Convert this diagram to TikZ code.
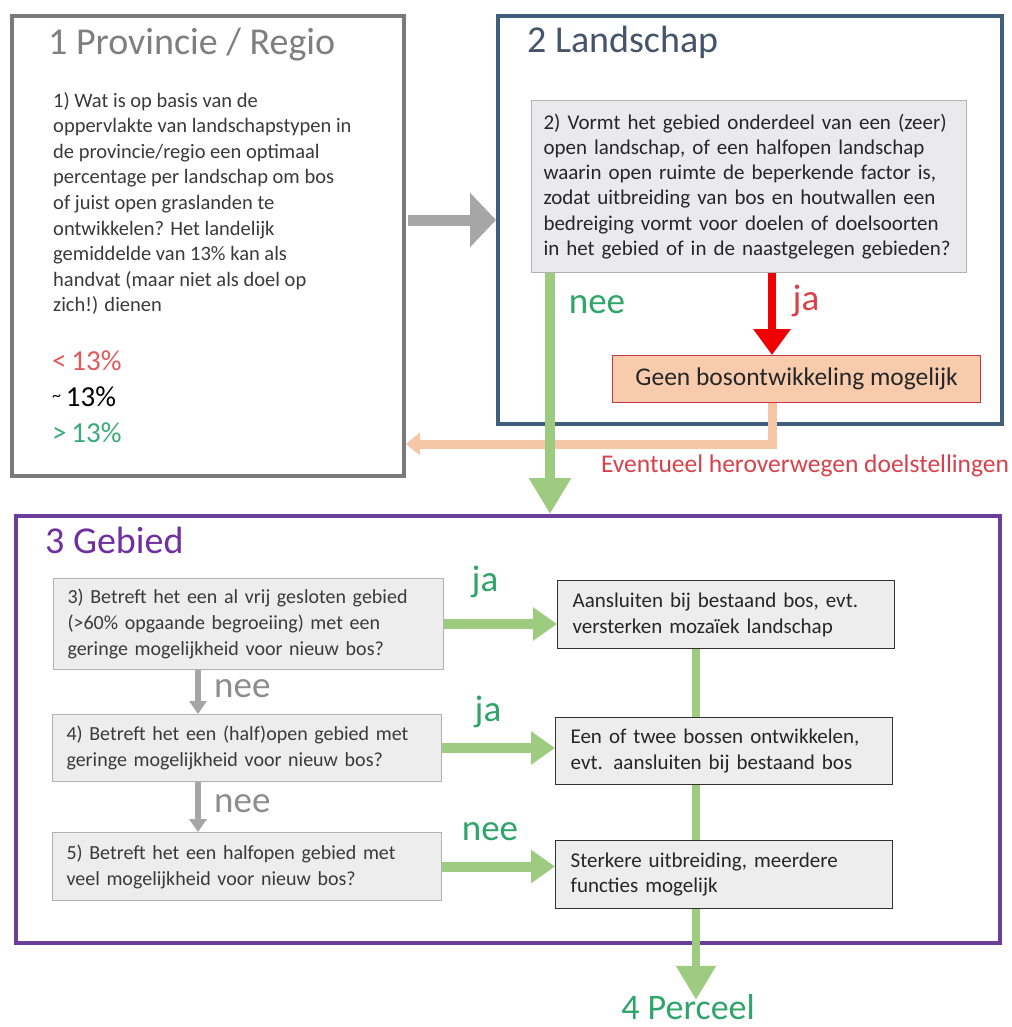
\documentclass[tikz,border=0pt]{standalone}
\usepackage{fontspec}
\setmainfont{Carlito}
\usetikzlibrary{arrows.meta}
\definecolor{frameGray}{HTML}{7A7A7A}
\definecolor{frameBlue}{HTML}{41607E}
\definecolor{framePurple}{HTML}{6B3E9B}
\definecolor{titleGray}{HTML}{7F7F7F}
\definecolor{titleBlue}{HTML}{44546A}
\definecolor{titlePurple}{HTML}{7030A0}
\definecolor{arrGray}{HTML}{A6A6A6}
\definecolor{arrGreen}{HTML}{9DCB7F}
\definecolor{txtGreen}{HTML}{2FA56A}
\definecolor{arrRed}{HTML}{F00000}
\definecolor{txtRed}{HTML}{D9414A}
\definecolor{peachFill}{HTML}{F8CBAD}
\definecolor{peachArr}{HTML}{F6C7A7}
\definecolor{boxFill}{HTML}{EDEDED}
\definecolor{boxFillB}{HTML}{EAEAEC}
\definecolor{bodyText}{HTML}{3A3A3A}
\definecolor{pctRed}{HTML}{E05A5A}
\definecolor{pctGreen}{HTML}{3AAA7A}
\newcommand\fsz[2]{\fontsize{#1}{#2}\selectfont}
\tikzset{
  frame/.style={draw, line width=4pt, anchor=north west, inner sep=0pt},
  qbox/.style={draw=black!30, fill=boxFill, line width=1pt, align=left, inner xsep=14pt, inner ysep=0pt, text=bodyText, font=\fsz{20}{26}},
  rbox/.style={draw=black!80, fill=boxFill, line width=1.3pt, align=left, inner xsep=15pt, inner ysep=0pt, text=black!85, font=\fsz{21}{25.5}},
  title/.style={anchor=west, inner sep=0pt, font=\fsz{38}{44}},
  lab/.style={inner sep=0pt, font=\fsz{37}{42}},
  bigGray/.style={draw=arrGray, line width=11pt, -{Triangle[length=26pt,width=53pt,fill=arrGray]}},
  bigGreen/.style={draw=arrGreen, line width=10pt, -{Triangle[length=36pt,width=40pt,fill=arrGreen]}},
  redArr/.style={draw=arrRed, line width=8pt, -{Triangle[length=26pt,width=36pt,fill=arrRed]}},
  peachLine/.style={draw=peachArr, line width=9pt, -{Triangle[length=14pt,width=22pt,fill=peachArr]}},
  smallGray/.style={draw=arrGray, line width=6pt, -{Triangle[length=13pt,width=17pt,fill=arrGray]}},
  midGreen/.style={draw=arrGreen, line width=10pt, -{Triangle[length=24pt,width=32pt,fill=arrGreen]}},
  vGreen/.style={draw=arrGreen, line width=8pt},
}
\begin{document}
\begin{tikzpicture}[x=1pt,y=-1pt]
\useasboundingbox (0,0) rectangle (1011,1027);
\fill[white] (0,0) rectangle (1011,1027);
% frames
\node[frame, draw=frameGray, minimum width=392pt, minimum height=460pt] (b1) at (10,14) {};
\node[frame, draw=frameBlue, minimum width=504pt, minimum height=408pt] (b2) at (496,14) {};
\node[frame, draw=framePurple, minimum width=984pt, minimum height=427pt] (b3) at (14,514) {};
% titles
\node[title, text=titleGray] (t1) at (48,45) {1 Provincie / Regio};
\node[title, text=titleBlue] (t2) at (527,42) {2 Landschap};
\node[title, text=titlePurple] (t3) at (45,540) {3 Gebied};
% box 1 text
\node[anchor=north west, align=left, inner sep=0pt, text=bodyText, font=\fsz{20.5}{25.6}] (q1) at (53,92)
 {1) Wat is op basis van de\\
  oppervlakte van landschapstypen in\\
  de provincie/regio een optimaal\\
  percentage per landschap om bos\\
  of juist open graslanden te\\
  ontwikkelen? Het landelijk\\
  gemiddelde van 13\% kan als\\
  handvat (maar niet als doel op\\
  zich!) dienen};
\node[anchor=west, inner sep=0pt, text=pctRed, font=\fsz{29}{34}] (p1) at (52,361) {<\,13\%};
\node[anchor=west, inner sep=0pt, text=black, font=\fsz{29}{34}] (p2) at (52,397) {\raisebox{5pt}{\fsz{18}{20}\textasciitilde}\,13\%};
\node[anchor=west, inner sep=0pt, text=pctGreen, font=\fsz{29}{34}] (p3) at (52,433) {>\,13\%};
% box 2 question
\node[draw=black!30, fill=boxFillB, line width=1pt, anchor=north west, minimum width=435pt, minimum height=172pt,
      text width=411pt, inner xsep=12pt, inner ysep=0pt, align=left, text=black!85, font=\fsz{21}{25.2}] (q2) at (531,100)
 {2) Vormt het gebied onderdeel van een (zeer)\\
  open landschap, of een halfopen landschap\\
  waarin open ruimte de beperkende factor is,\\
  zodat uitbreiding van bos en houtwallen een\\
  bedreiging vormt voor doelen of doelsoorten\\
  in het gebied of in de naastgelegen gebieden?};
\node[draw=txtRed!90!black, fill=peachFill, line width=1.2pt, anchor=north west, minimum width=368pt, minimum height=47pt,
      inner sep=0pt, text=black!85, font=\fsz{25.5}{30}] (geen) at (612,355) {Geen bosontwikkeling mogelijk};
\node[text=txtRed, inner sep=0pt, font=\fsz{25.5}{30}] (evt) at (805,466) {Eventueel heroverwegen doelstellingen};
\node[lab, text=txtGreen] (nee2) at (597,305) {nee};
\node[lab, text=txtRed] (ja2) at (806,301) {ja};
% box 3 questions
\node[qbox, anchor=north west, minimum height=91pt, text width=362pt] (q3) at (53,578)
 {3) Betreft het een al vrij gesloten gebied\\
  (>60\% opgaande begroeiing) met een\\
  geringe mogelijkheid voor nieuw bos?};
\node[qbox, anchor=north west, minimum height=67pt, text width=361pt] (q4) at (52,714)
 {4) Betreft het een (half)open gebied met\\
  geringe mogelijkheid voor nieuw bos?};
\node[qbox, anchor=north west, minimum height=68pt, text width=361pt] (q5) at (52,832)
 {5) Betreft het een halfopen gebied met\\
  veel mogelijkheid voor nieuw bos?};
% results
\node[rbox, anchor=north west, minimum height=68pt, text width=307pt] (rA) at (557,580)
 {Aansluiten bij bestaand bos, evt.\\ versterken mozaïek landschap};
\node[rbox, anchor=north west, minimum height=67pt, text width=307pt] (rB) at (555,717)
 {Een of twee bossen ontwikkelen,\\ evt. aansluiten bij bestaand bos};
\node[rbox, anchor=north west, minimum height=68pt, text width=307pt] (rC) at (555,840)
 {Sterkere uitbreiding, meerdere\\ functies mogelijk};
% labels box 3
\node[lab, text=txtGreen] (ja3) at (485,582) {ja};
\node[lab, text=txtGreen] (ja4) at (488,712) {ja};
\node[lab, text=txtGreen] (nee5) at (490,832) {nee};
\node[lab, text=arrGray!85!black, anchor=west] (nee3) at (214,689) {nee};
\node[lab, text=arrGray!85!black, anchor=west] (nee4) at (214,804) {nee};
\node[text=txtGreen, inner sep=0pt, font=\fsz{36}{40}, anchor=base] (perceel) at (688,1019) {4 Perceel};
% helper coordinates
\coordinate (gx) at (550,0);
\coordinate (rx) at (772,0);
\coordinate (vx) at (696,0);
\coordinate (sx) at (198,0);
% connectors
\draw[bigGray] ([xshift=2pt,yshift=26pt]b1.east) -- ([yshift=26pt]b1.east -| b2.west);
\draw[peachLine] (geen.south -| rx) |- ([yshift=-198pt]b1.east);
\draw[bigGreen] (q2.south -| gx) -- (b3.north -| gx);
\draw[redArr] (q2.south -| rx) -- (geen.north -| rx);
\draw[smallGray] (q3.south -| sx) -- (q4.north -| sx);
\draw[smallGray] (q4.south -| sx) -- (q5.north -| sx);
\draw[midGreen] (q3.east) -- (q3.east -| rA.west);
\draw[midGreen] (q4.east) -- (q4.east -| rB.west);
\draw[midGreen] (q5.east) -- (q5.east -| rC.west);
\draw[vGreen] (rA.south -| vx) -- (rB.north -| vx);
\draw[vGreen] (rB.south -| vx) -- (rC.north -| vx);
\draw[vGreen, -{Triangle[length=34pt,width=38pt,fill=arrGreen]}] (rC.south -| vx) -- ([yshift=-6pt]perceel.north -| vx);
\end{tikzpicture}
\end{document}
